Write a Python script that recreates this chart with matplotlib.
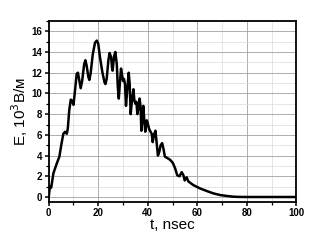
import matplotlib
matplotlib.use("Agg")
from matplotlib import pyplot as plt
from matplotlib.ticker import MultipleLocator
import numpy as np

# pulse envelope
t_ns = [0, 0.5, 1.0, 1.9, 3.2, 4.3, 5.2, 5.9, 6.6, 7.3, 7.7, 8.3, 8.9, 9.4, 10.0,
        10.5, 11.3, 11.8, 12.4, 12.9, 13.5, 14.3, 14.8, 15.3, 16.0, 16.4, 16.9,
        17.8, 18.7, 19.4, 20.0, 20.7, 21.7, 22.5, 22.9, 23.4, 24.1, 24.6, 25.2,
        25.6, 25.8, 26.4, 26.9, 27.5, 27.9, 28.3, 28.8, 29.2, 29.6, 30.0, 30.4,
        30.8, 31.2, 31.8, 32.3, 32.7, 33.1, 33.6, 34.2, 34.6, 35.0, 35.4, 35.8,
        36.3, 36.7, 37.1, 37.4, 37.8, 38.2, 38.6, 39.0, 39.6, 40.0, 40.5, 40.9,
        41.6, 42.0, 42.5, 43.1, 43.6, 44.1, 44.7, 45.2, 45.8, 46.3, 46.9, 47.6,
        49.0, 50.1, 51.0, 51.9, 52.8, 53.7, 54.4, 54.9, 55.7, 56.4, 58.4, 61.1,
        63.8, 66.5, 69.2, 71.9, 74.6, 77.0, 80.0, 90.0, 100.0]
e_field = [0, 1.0, 0.9, 2.3, 3.2, 3.9, 5.2, 6.1, 6.3, 6.1, 6.6, 8.4, 9.4, 9.3, 8.9,
           10.0, 11.9, 12.0, 11.2, 10.5, 11.2, 12.8, 13.2, 12.7, 11.6, 11.3, 11.9,
           13.8, 14.9, 15.1, 14.8, 13.5, 12.0, 11.1, 10.9, 11.4, 13.2, 13.9, 13.5,
           12.4, 12.2, 13.6, 14.0, 12.8, 10.6, 9.5, 11.2, 12.4, 11.8, 11.2, 11.4,
           10.9, 8.8, 10.6, 12.0, 10.9, 8.0, 9.3, 10.4, 9.3, 9.0, 9.2, 8.0,
           8.7, 9.5, 8.7, 6.4, 7.4, 8.8, 7.4, 6.3, 7.4, 7.1, 6.6, 6.4,
           6.1, 5.3, 6.0, 6.4, 5.2, 4.0, 4.4, 5.0, 5.2, 4.7, 3.9, 3.8,
           3.6, 3.3, 2.8, 2.1, 2.0, 2.4, 2.1, 1.6, 1.9, 1.5, 1.15, 0.83,
           0.58, 0.35, 0.19, 0.1, 0.03, 0.01, 0.0, 0.0, 0.0]

plt.rcParams['font.family'] = ['Liberation Sans', 'DejaVu Sans']

fig = plt.figure(figsize=(3.36, 2.49), dpi=100)
ax = fig.add_axes([0.145, 0.188, 0.737, 0.728])

ax.plot(t_ns, e_field, color="k", lw=1.8, solid_joinstyle="round")

ax.set_xlim(0, 100)
ax.set_ylim(-0.5, 17)
ax.xaxis.set_major_locator(MultipleLocator(20))
ax.xaxis.set_minor_locator(MultipleLocator(10))
ax.yaxis.set_major_locator(MultipleLocator(2))
ax.yaxis.set_minor_locator(MultipleLocator(1))
ax.grid(which="major", color="#a0a0a0", lw=0.6)
ax.grid(which="minor", color="#dcdcdc", lw=0.5)
ax.set_axisbelow(True)

for s in ax.spines.values():
    s.set_linewidth(1.3)
ax.tick_params(which="major", direction="out", length=3, width=1.1,
               labelsize=7, pad=1.5)
ax.tick_params(which="minor", direction="out", length=2, width=0.9)
for lab in ax.get_xticklabels() + ax.get_yticklabels():
    lab.set_fontweight("bold")

ax.set_xlabel("t, nsec", fontsize=11, labelpad=0)
ax.set_ylabel("E, 10$^3$B/м", fontsize=11, labelpad=1)

fig.savefig("out.png", dpi=100)
